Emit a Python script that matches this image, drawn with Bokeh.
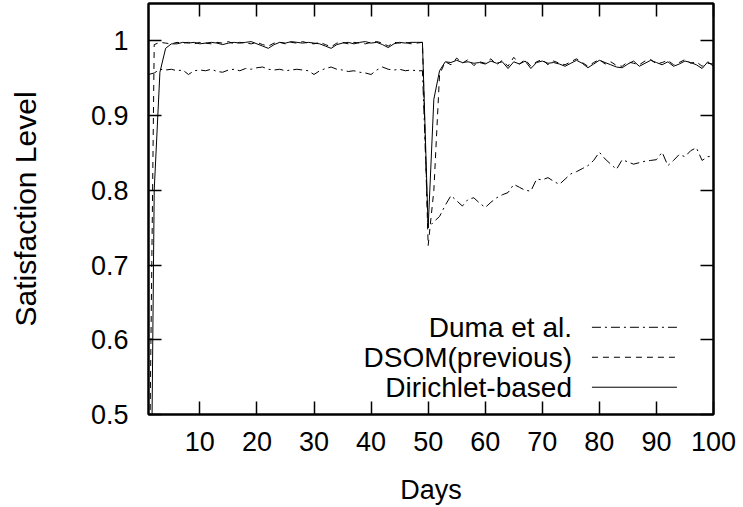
from bokeh.plotting import figure
from bokeh.models import FixedTicker, LinearAxis, CustomJSTickFormatter, Range1d
from bokeh.core.properties import value
from bokeh.embed import file_html
from bokeh.resources import INLINE

days = list(range(1, 101))

dirichlet = [
    0.0, 0.800, 0.958, 0.990, 0.996, 0.996, 0.998, 0.997, 0.998, 0.996,
    0.997, 0.998, 0.997, 0.995, 0.997, 0.998, 0.997, 0.998, 0.999, 0.996,
    0.993, 0.990, 0.995, 0.998, 0.997, 0.999, 0.998, 0.997, 0.998, 0.997,
    0.996, 0.993, 0.990, 0.995, 0.997, 0.998, 0.996, 0.998, 0.999, 0.997,
    0.998, 0.995, 0.991, 0.996, 0.998, 0.997, 0.998, 0.998, 0.998, 0.750,
    0.922, 0.960, 0.972, 0.971, 0.974, 0.971, 0.972, 0.970, 0.971, 0.969,
    0.973, 0.970, 0.972, 0.963, 0.972, 0.969, 0.973, 0.963, 0.971, 0.973,
    0.970, 0.971, 0.969, 0.966, 0.970, 0.974, 0.970, 0.964, 0.969, 0.974,
    0.971, 0.968, 0.965, 0.964, 0.969, 0.973, 0.966, 0.970, 0.974, 0.971,
    0.968, 0.972, 0.966, 0.969, 0.973, 0.971, 0.968, 0.963, 0.972, 0.966,
]

dsom = [
    0.300, 0.995, 0.998, 0.997, 0.996, 0.998, 0.997, 0.998, 0.996, 0.998,
    0.997, 0.996, 0.998, 0.997, 0.999, 0.996, 0.998, 0.997, 0.996, 0.998,
    0.995, 0.993, 0.997, 0.998, 0.996, 0.998, 0.997, 0.999, 0.997, 0.996,
    0.998, 0.995, 0.992, 0.997, 0.998, 0.996, 0.998, 0.997, 0.996, 0.998,
    0.999, 0.997, 0.993, 0.998, 0.997, 0.998, 0.996, 0.997, 0.998, 0.726,
    0.800, 0.955, 0.972, 0.968, 0.977, 0.970, 0.975, 0.967, 0.972, 0.970,
    0.976, 0.968, 0.974, 0.966, 0.978, 0.969, 0.975, 0.966, 0.972, 0.975,
    0.968, 0.973, 0.970, 0.968, 0.972, 0.976, 0.971, 0.966, 0.971, 0.975,
    0.969, 0.972, 0.967, 0.966, 0.972, 0.970, 0.968, 0.973, 0.975, 0.969,
    0.971, 0.974, 0.968, 0.971, 0.975, 0.970, 0.972, 0.966, 0.970, 0.969,
]

duma = [
    0.955, 0.957, 0.962, 0.961, 0.962, 0.960, 0.961, 0.955, 0.960, 0.961,
    0.960, 0.962, 0.959, 0.958, 0.961, 0.962, 0.960, 0.963, 0.962, 0.964,
    0.965, 0.962, 0.961, 0.962, 0.960, 0.961, 0.962, 0.961, 0.960, 0.955,
    0.960, 0.963, 0.965, 0.962, 0.961, 0.959, 0.960, 0.958, 0.957, 0.955,
    0.961, 0.965, 0.962, 0.961, 0.962, 0.960, 0.961, 0.960, 0.960, 0.750,
    0.758, 0.765, 0.780, 0.793, 0.786, 0.779, 0.788, 0.790, 0.783, 0.777,
    0.784, 0.790, 0.794, 0.797, 0.808, 0.804, 0.800, 0.799, 0.815, 0.814,
    0.817, 0.812, 0.808, 0.815, 0.822, 0.825, 0.829, 0.833, 0.840, 0.851,
    0.842, 0.835, 0.828, 0.841, 0.838, 0.835, 0.837, 0.839, 0.840, 0.841,
    0.851, 0.833, 0.840, 0.848, 0.845, 0.853, 0.857, 0.840, 0.845, 0.846,
]

series_names = ["Duma et al.", "DSOM(previous)", "Dirichlet-based"]
x_ticks = [10, 20, 30, 40, 50, 60, 70, 80, 90, 100]
y_ticks = [0.5, 0.6, 0.7, 0.8, 0.9, 1.0]

FONT = "Liberation Sans"
TICK_SIZE = "27px"
DASHED = "6 5"
DASHDOT = "9 4 2 4"

p = figure(width=743, height=507, output_backend="svg", toolbar_location=None,
           x_range=Range1d(1, 100), y_range=Range1d(0.5, 1.05),
           min_border_left=148, min_border_right=30, min_border_top=3,
           min_border_bottom=93, background_fill_color="white",
           border_fill_color="white")
p.grid.visible = False
p.outline_line_color = "black"
p.outline_line_width = 2

fmt = CustomJSTickFormatter(code="return tick.toFixed(1).replace(/\\.0$/, '');")

def style_axis(ax, ticks, labels=True):
    ax.ticker = FixedTicker(ticks=ticks)
    ax.major_tick_in = 13
    ax.major_tick_out = 0
    ax.minor_tick_in = 0
    ax.minor_tick_out = 0
    ax.major_tick_line_width = 1.5
    ax.major_tick_line_color = "black"
    ax.axis_line_width = 2
    ax.axis_line_color = "black"
    ax.major_label_text_font = FONT
    ax.major_label_text_color = "black"
    if labels:
        ax.major_label_text_font_size = TICK_SIZE
    else:
        ax.major_label_text_font_size = "1px"
        ax.major_label_text_alpha = 0
        ax.major_label_standoff = 0

xa = p.xaxis[0]
ya = p.yaxis[0]
style_axis(xa, x_ticks)
style_axis(ya, y_ticks)
ya.formatter = fmt
xa.major_label_standoff = 17
ya.major_label_standoff = 20
xa.axis_label = "Days"
ya.axis_label = "Satisfaction Level"
for ax in (xa, ya):
    ax.axis_label_text_font = FONT
    ax.axis_label_text_font_style = "normal"
    ax.axis_label_text_color = "black"
xa.axis_label_text_font_size = "27px"
ya.axis_label_text_font_size = "30px"
xa.axis_label_standoff = 21
ya.axis_label_standoff = 46

top = LinearAxis()
style_axis(top, x_ticks, labels=False)
p.add_layout(top, "above")
right = LinearAxis()
style_axis(right, y_ticks, labels=False)
p.add_layout(right, "right")

p.line(days, duma, line_color="black", line_width=1, line_dash=DASHDOT)
p.line(days, dsom, line_color="black", line_width=1, line_dash=DASHED)
p.line(days, dirichlet, line_color="black", line_width=1)

# hand-made legend (text right-aligned, sample line to the right)
leg_text_x = 75.2
leg_x0, leg_x1 = 78.7, 93.6
leg_y = [0.6167, 0.5766, 0.5365]
leg_dash = [DASHDOT, DASHED, "solid"]
p.text(x=[leg_text_x] * 3, y=leg_y, text=series_names, text_align="right",
       text_baseline="middle", text_font=value(FONT), text_font_size="28px",
       text_color="black")
for yy, dash in zip(leg_y, leg_dash):
    p.segment(x0=[leg_x0], y0=[yy], x1=[leg_x1], y1=[yy], line_color="black",
              line_width=1, line_dash=dash)

open("out.html", "w").write(file_html(p, INLINE))
